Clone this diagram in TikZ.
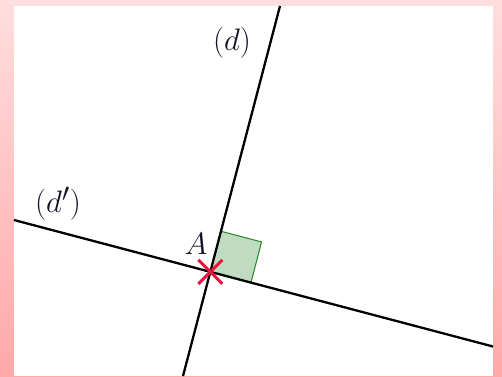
\documentclass[tikz,border=0pt]{standalone}
\usetikzlibrary{calc}
\definecolor{bgtop}{RGB}{255,222,222}
\definecolor{bgbot}{RGB}{255,168,168}
\definecolor{sqfill}{RGB}{192,220,192}
\definecolor{sqdraw}{RGB}{40,130,40}
\definecolor{crossred}{RGB}{235,20,60}
\definecolor{txt}{RGB}{20,20,40}
\begin{document}
\begin{tikzpicture}[x=1pt,y=-1pt,
  geoline/.style={line width=2.3pt, black},
  rightangle/.style={fill=sqfill, draw=sqdraw, line width=1pt},
  crossmark/.style={crossred, line width=3pt},
  lbl/.style={inner sep=0pt, text=txt, font=\Huge, scale=1.25}]
\useasboundingbox (0,0) rectangle (502,376);
\shade[top color=bgtop, bottom color=bgbot] (0,0) rectangle (502,376);
\fill[white] (14,6) rectangle (493,376);
\coordinate (dtop) at (280,6);
\coordinate (dbot) at (183,376);
\coordinate (pl) at (14,220);
\coordinate (pr) at (493,346.5);
\coordinate (A) at (intersection of dtop--dbot and pl--pr);
\coordinate (S1) at ($(A)!42pt!(dtop)$);
\coordinate (S3) at ($(A)!42pt!(pr)$);
\coordinate (S2) at ($(S1)+(S3)-(A)$);
\draw[rightangle] (A) -- (S1) -- (S2) -- (S3) -- cycle;
\draw[geoline] (dtop) -- (dbot);
\draw[geoline] (pl) -- (pr);
\draw[crossmark] ($(A)+(-12,-12)$) -- ($(A)+(12,12)$);
\draw[crossmark] ($(A)+(-12,12)$) -- ($(A)+(12,-12)$);
\node[lbl] (ld) at (232,43) {$(d)$};
\node[lbl] (ldp) at (58,204) {$(d')$};
\node[lbl] (lA) at (196,244) {$A$};
\end{tikzpicture}
\end{document}
